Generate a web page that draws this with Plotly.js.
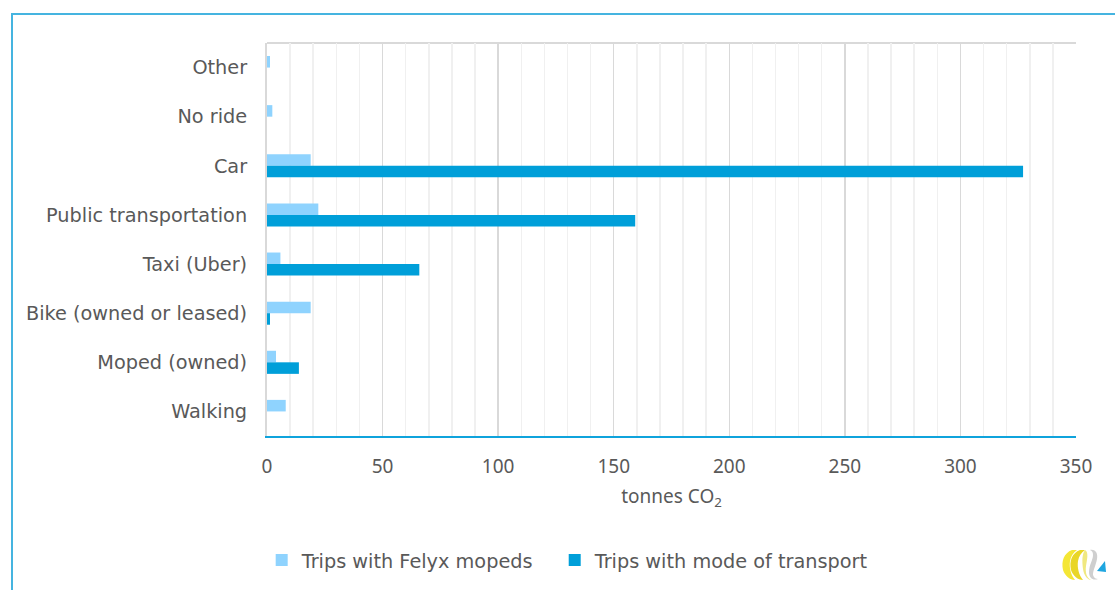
<!DOCTYPE html>
<html>
<head>
<meta charset="utf-8">
<script src="https://cdn.plot.ly/plotly-3.0.1.min.js"></script>
<style>
  html, body { margin:0; padding:0; background:#fff; }
  #wrap { position:relative; width:1115px; height:590px; overflow:hidden; }
  #chart { position:absolute; left:0; top:0; width:1115px; height:590px; }
  #frame { position:absolute; left:11px; top:13px; width:1120px; height:600px;
           border-top:2px solid #45b4e0; border-left:2px solid #45b4e0; pointer-events:none; }
  #logo { position:absolute; left:1060px; top:546px; }
</style>
</head>
<body>
<div id="wrap">
  <div id="chart"></div>
  <div id="frame"></div>
  <svg id="logo" width="50" height="36" viewBox="0 0 50 36">
    <path d="M12 4 C4 7 1 15 3 24 C5 30 10 34 15 34 C11 29 9 22 10 15 C11 10 13 7 17 4 Z" fill="#f4e635"/>
    <path d="M20 4 C12 7 9 15 11 24 C13 30 18 34 23 34 C19 29 17 22 18 15 C19 10 21 7 25 4 Z" fill="#e9d626"/>
    <path d="M25 4 C29 6 27 14 26 20 C25 27 27 32 31 34 C28 34 24 30 23 23 C22 15 22 8 25 4 Z" fill="#f0e880"/>
    <path d="M30 4 C36 3 38 8 37 13 C36 19 33 24 33 29 C34 32 36 33 38 33 C33 35 29 32 29 26 C29 19 33 14 33 9 C33 6 32 5 30 4 Z" fill="#cfcfcf"/>
    <path d="M37 25 L45 15 L46 26 Z" fill="#1fa6e0"/>
  </svg>
</div>
<script>
const categories = ['Other','No ride','Car','Public transportation','Taxi (Uber)','Bike (owned or leased)','Moped (owned)','Walking'];
const felyxTrips = [1.3, 2.3, 18.9, 22.2, 5.8, 18.9, 3.9, 8.1];
const modeTrips  = [0, 0, 327.1, 159.3, 65.9, 1.3, 13.8, 0];
const xTickVals = [0, 50, 100, 150, 200, 250, 300, 350];

const labelFont = {family: '"DejaVu Sans", sans-serif', size: 19.3, color: '#595959'};
const numFont = {family: '"Noto Sans", "Open Sans", sans-serif', size: 19, color: '#595959'};

const data = [
  {type:'bar', orientation:'h', name:'Trips with Felyx mopeds', y:categories, x:felyxTrips,
   marker:{color:'#8fd3fe'}, hoverinfo:'x+name', legend:'legend'},
  {type:'bar', orientation:'h', name:'Trips with mode of transport', y:categories, x:modeTrips,
   marker:{color:'#009fd9'}, hoverinfo:'x+name', legend:'legend2'}
];

const legendBase = {orientation:'h', xref:'container', xanchor:'left', yref:'container', y:0.05, yanchor:'middle',
                    font:labelFont, itemwidth:30, bgcolor:'rgba(0,0,0,0)'};

const layout = {
  width:1115, height:590,
  margin:{l:267, r:39, t:43, b:154},
  paper_bgcolor:'#ffffff', plot_bgcolor:'#ffffff',
  font: labelFont,
  barmode:'group', bargap:0.53, bargroupgap:0,
  showlegend:true,
  legend: Object.assign({}, legendBase, {x:0.2347}),
  legend2: Object.assign({}, legendBase, {x:0.4975}),
  xaxis:{range:[0,350], tickvals:xTickVals, ticktext:xTickVals.map(String),
         showgrid:true, gridcolor:'#d9d9d9', gridwidth:1.5,
         minor:{dtick:10, showgrid:true, gridcolor:'#f0f0f0', gridwidth:1.5},
         zeroline:false, showline:true, linecolor:'#0fa3dc', linewidth:2,
         ticks:'', ticklabelstandoff:12, tickfont:numFont,
         title:{text:'tonnes CO<sub>2</sub>', font:numFont, standoff:12}, fixedrange:true},
  yaxis:{autorange:'reversed', type:'category', showgrid:false, zeroline:false,
         showline:true, linecolor:'#d9d9d9', linewidth:2, ticks:'', ticklabelstandoff:14,
         tickfont:labelFont, fixedrange:true},
  shapes:[
    {type:'line', xref:'paper', yref:'paper', x0:0, x1:1, y0:1, y1:1, line:{color:'#d9d9d9', width:2}, layer:'below'}
  ]
};

Plotly.newPlot('chart', data, layout, {displayModeBar:false, staticPlot:true});
</script>
</body>
</html>
